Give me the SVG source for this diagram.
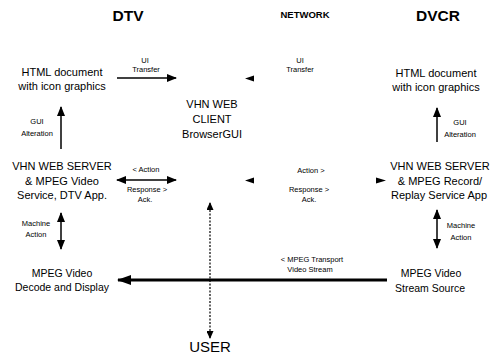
<svg xmlns="http://www.w3.org/2000/svg" width="492" height="356" viewBox="0 0 492 356">
<defs>
<marker id="ah" viewBox="0 0 10 8" refX="9" refY="4" markerWidth="10" markerHeight="8" markerUnits="userSpaceOnUse" orient="auto-start-reverse"><path d="M0,0 L10,4 L0,8 Z" fill="#000"/></marker>
<marker id="ahb" viewBox="0 0 14 10" refX="13" refY="5" markerWidth="14" markerHeight="10" markerUnits="userSpaceOnUse" orient="auto-start-reverse"><path d="M0,0 L14,5 L0,10 Z" fill="#000"/></marker>
<marker id="ahs" viewBox="0 0 8 7" refX="7" refY="3.5" markerWidth="8" markerHeight="7" markerUnits="userSpaceOnUse" orient="auto-start-reverse"><path d="M0,0 L8,3.5 L0,7 Z" fill="#000"/></marker>
</defs>
<style>
text{font-family:"Liberation Sans",Arial,sans-serif;fill:#000;text-anchor:middle}
.t{font-size:15.5px;font-weight:bold}
.n{font-size:9.5px;font-weight:bold}
.b{font-size:11px}
.m{font-size:10.5px}
.s{font-size:7.5px}
.u{font-size:15px}
.ln{stroke:#000;stroke-width:1.5;fill:none}
</style>
<rect width="492" height="356" fill="#fff"/>
<g id="titles">
<text class="t" x="128" y="21">DTV</text>
<text class="n" x="305" y="18">NETWORK</text>
<text class="t" x="438" y="21">DVCR</text>
</g>
<g id="html-dtv"><text class="b" x="62" y="76">HTML document</text><text class="b" x="62" y="90">with icon graphics</text></g>
<g id="html-dvcr"><text class="b" x="436" y="77">HTML document</text><text class="b" x="436" y="91">with icon graphics</text></g>
<g id="client"><text class="b" x="212" y="108">VHN WEB</text><text class="b" x="212" y="123">CLIENT</text><text class="b" x="212" y="138">BrowserGUI</text></g>
<g id="server-dtv"><text class="b" x="62" y="170">VHN WEB SERVER</text><text class="b" x="62" y="185">&amp; MPEG Video</text><text class="b" x="62" y="199">Service, DTV App.</text></g>
<g id="server-dvcr"><text class="b" x="440" y="170">VHN WEB SERVER</text><text class="b" x="440" y="185">&amp; MPEG Record/</text><text class="b" x="439" y="199">Replay Service App</text></g>
<g id="decode"><text class="m" x="62" y="277">MPEG Video</text><text class="m" x="62" y="291">Decode and Display</text></g>
<g id="source"><text class="m" x="431" y="277">MPEG Video</text><text class="m" x="430" y="292">Stream Source</text></g>
<g id="user"><text class="u" x="210" y="352">USER</text></g>
<g id="connectors">
<line class="ln" x1="117" y1="78" x2="176" y2="78" marker-end="url(#ah)"/>
<path d="M254,75.5 L245,78.5 L254,81.5 Z" fill="#000"/>
<line class="ln" x1="61" y1="149" x2="61" y2="107" marker-end="url(#ah)"/>
<line class="ln" x1="437" y1="142" x2="437" y2="108" marker-end="url(#ah)"/>
<line class="ln" x1="117" y1="180" x2="176" y2="180" marker-start="url(#ah)" marker-end="url(#ah)"/>
<path d="M254,177.5 L245,180.5 L254,183.5 Z" fill="#000"/>
<path d="M376,177.5 L386,180.5 L376,183.5 Z" fill="#000"/>
<line class="ln" x1="61" y1="213" x2="61" y2="249" marker-start="url(#ah)" marker-end="url(#ah)"/>
<line class="ln" x1="437" y1="210" x2="437" y2="248" marker-start="url(#ah)" marker-end="url(#ah)"/>
<line x1="387" y1="280" x2="118" y2="280" stroke="#000" stroke-width="3" marker-end="url(#ahb)"/>
<line x1="210" y1="203" x2="210" y2="338" stroke="#000" stroke-width="1.2" stroke-dasharray="2,1.5" marker-start="url(#ahs)" marker-end="url(#ahs)"/>
</g>
<g id="labels">
<text class="s" x="145" y="63">UI</text><text class="s" x="146" y="72">Transfer</text>
<text class="s" x="300" y="63">UI</text><text class="s" x="300" y="72">Transfer</text>
<text class="s" x="37" y="124">GUI</text><text class="s" x="37" y="136">Alteration</text>
<text class="s" x="460" y="125">GUI</text><text class="s" x="460" y="137">Alteration</text>
<text class="s" x="146" y="172">&lt; Action</text><text class="s" x="147" y="192">Response &gt;</text><text class="s" x="145" y="202">Ack.</text>
<text class="s" x="311" y="173">Action &gt;</text><text class="s" x="309" y="192">Response &gt;</text><text class="s" x="309" y="202">Ack.</text>
<text class="s" x="36" y="226">Machine</text><text class="s" x="36" y="237">Action</text>
<text class="s" x="461" y="228">Machine</text><text class="s" x="461" y="240">Action</text>
<text class="s" x="312" y="262">&lt; MPEG Transport</text><text class="s" x="310" y="272">Video Stream</text>
</g>
</svg>
